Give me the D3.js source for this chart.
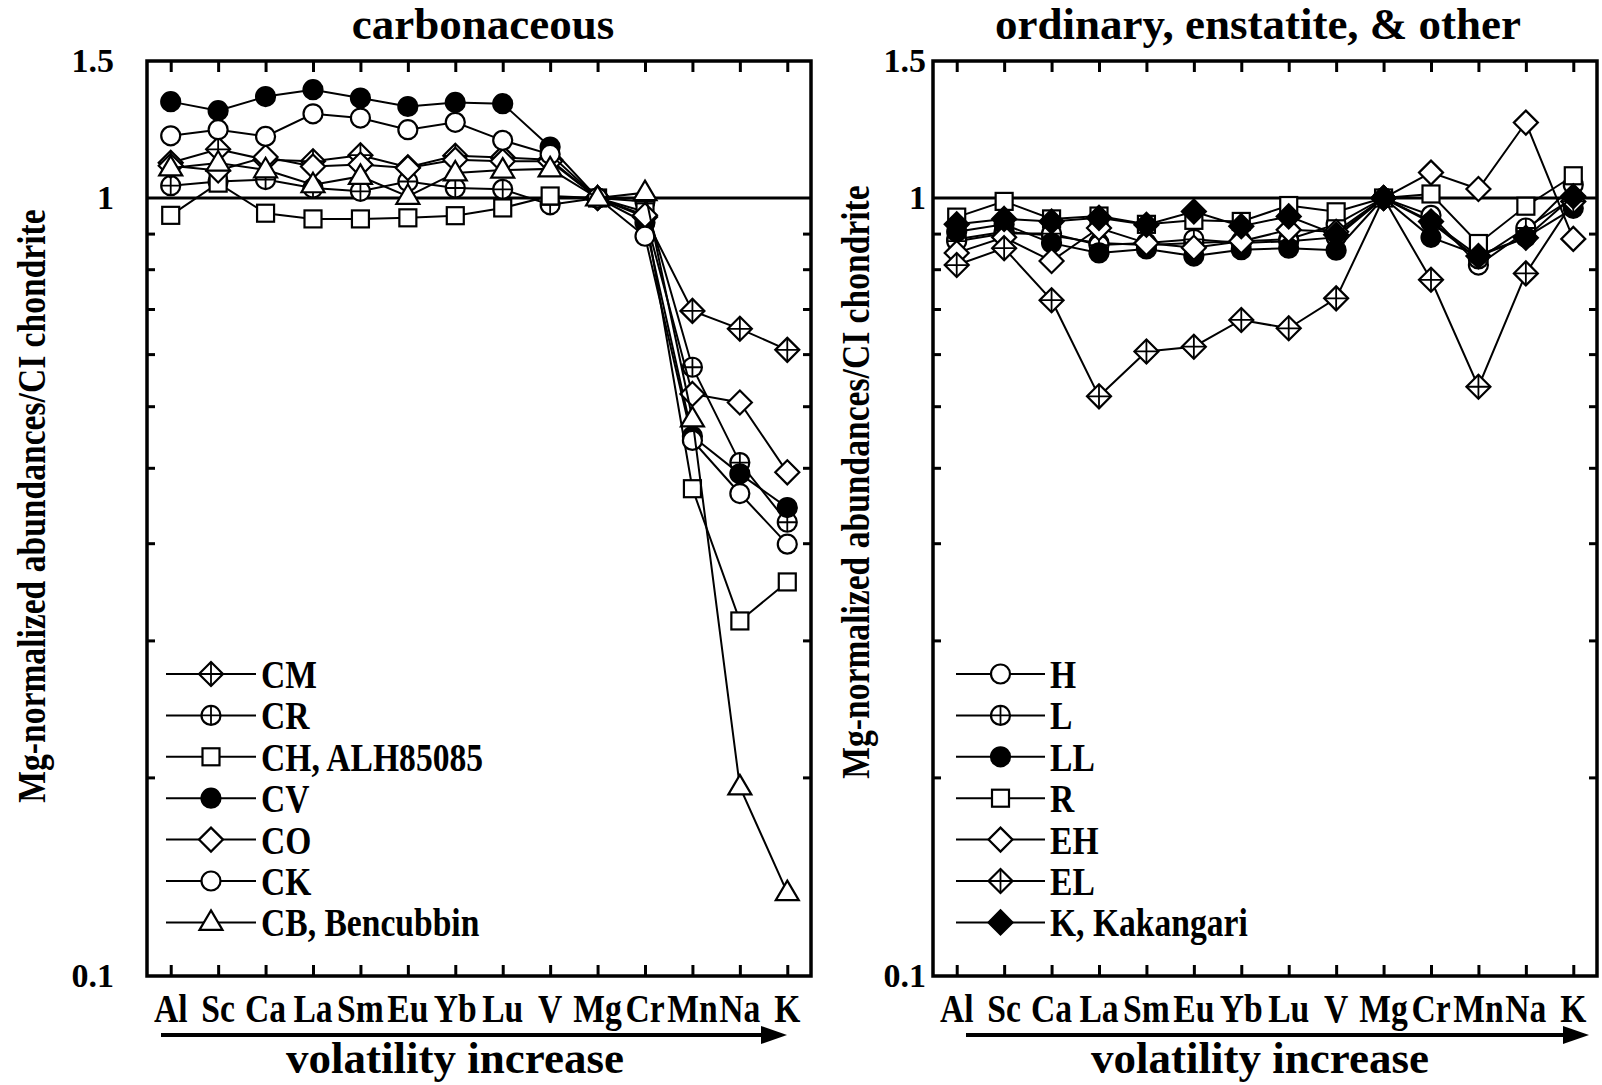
<!DOCTYPE html>
<html>
<head>
<meta charset="utf-8">
<script src="https://cdn.jsdelivr.net/npm/d3@7"></script>
<style>
  body { margin: 0; background: #fff; }
  svg { display: block; font-family: "Liberation Serif", "Times New Roman", serif; font-weight: bold; }
</style>
</head>
<body>
<svg id="chart" width="1602" height="1085"></svg>
<script>
// elements, ordered by volatility
const elements = ["Al", "Sc", "Ca", "La", "Sm", "Eu", "Yb", "Lu", "V", "Mg", "Cr", "Mn", "Na", "K"];

// carbonaceous chondrites (Mg- and CI-normalized)
const CM = [1.11, 1.155, 1.12, 1.115, 1.135, 1.095, 1.133, 1.127, 1.12, 1, 0.945, 0.716, 0.679, 0.638];
const CR = [1.037, 1.05, 1.056, 1.03, 1.02, 1.05, 1.03, 1.026, 0.98, 1, 0.99, 0.606, 0.457, 0.383];
const CH = [0.95, 1.045, 0.956, 0.94, 0.94, 0.943, 0.949, 0.971, 1.006, 1, 0.96, 0.423, 0.286, 0.321];
const CV = [1.33, 1.295, 1.35, 1.378, 1.344, 1.311, 1.327, 1.322, 1.163, 1, 0.93, 0.494, 0.442, 0.4];
const CO = [1.1, 1.085, 1.129, 1.098, 1.104, 1.093, 1.12, 1.115, 1.115, 1, 0.95, 0.56, 0.546, 0.444];
const CK = [1.202, 1.224, 1.2, 1.283, 1.267, 1.224, 1.251, 1.186, 1.138, 1, 0.893, 0.488, 0.417, 0.359];
const CB = [1.093, 1.109, 1.087, 1.04, 1.066, 1.005, 1.077, 1.086, 1.09, 1, 1.016, 0.52, 0.175, 0.128];
const carbNames = ["CM", "CR", "CH, ALH85085", "CV", "CO", "CK", "CB, Bencubbin"];

// ordinary, enstatite & other chondrites
const H = [0.885, 0.905, 0.895, 0.875, 0.87, 0.875, 0.88, 0.885, 0.925, 1, 0.95, 0.82, 0.905, 1.04];
const L = [0.88, 0.9, 0.9, 0.87, 0.875, 0.885, 0.875, 0.88, 0.89, 1, 0.93, 0.835, 0.915, 1.0];
const LL = [0.905, 0.925, 0.875, 0.85, 0.86, 0.842, 0.858, 0.862, 0.857, 1, 0.89, 0.845, 0.89, 0.97];
const R = [0.945, 0.99, 0.94, 0.948, 0.925, 0.936, 0.933, 0.978, 0.96, 1, 1.012, 0.874, 0.976, 1.068];
const EH = [0.85, 0.89, 0.83, 0.915, 0.875, 0.863, 0.88, 0.91, 0.905, 1, 1.078, 1.027, 1.25, 0.886];
const EL = [0.82, 0.862, 0.739, 0.556, 0.635, 0.644, 0.697, 0.68, 0.743, 1, 0.785, 0.572, 0.8, 0.99];
const Kakangari = [0.925, 0.94, 0.933, 0.943, 0.924, 0.961, 0.92, 0.947, 0.897, 1, 0.933, 0.842, 0.889, 1.005];
const otherNames = ["H", "L", "LL", "R", "EH", "EL", "K, Kakangari"];

// y axis
const yTickValues = [0.1, 1, 1.5];
const yTickLabels = ["0.1", "1", "1.5"];
const minorTicks = [0.18, 0.27, 0.36, 0.45, 0.54, 0.63, 0.72, 0.81, 0.9];

const svg = d3.select("#chart");
const plotTop = 61, plotBottom = 976;
const y = d3.scaleLog().domain([0.1, 1.5]).range([plotBottom, plotTop]);

function marker(g, type, cx, cy) {
  const m = g.append("g").attr("transform", `translate(${cx},${cy})`)
    .attr("stroke", "#000").attr("stroke-width", 2.2);
  const fill = type.endsWith("Filled") ? "#000" : "#fff";
  let r = 9.5;
  if (type.startsWith("circle")) {
    m.append("circle").attr("r", 9.5).attr("fill", fill);
  } else if (type.startsWith("square")) {
    m.append("rect").attr("x", -8.5).attr("y", -8.5).attr("width", 17).attr("height", 17).attr("fill", fill);
  } else if (type.startsWith("diamond")) {
    r = 12;
    m.append("path").attr("d", "M0,-12L12,0L0,12L-12,0Z").attr("fill", fill);
  } else if (type.startsWith("triangle")) {
    m.append("path").attr("d", "M0,-12L11.5,7.5L-11.5,7.5Z").attr("fill", fill);
  }
  if (type.endsWith("Cross")) {
    m.append("path").attr("d", `M${-r},0H${r}M0,${-r}V${r}`).attr("fill", "none").attr("stroke-width", 1.8);
  }
}

function drawPanel(cfg) {
  const x = d3.scalePoint().domain(elements).range([cfg.x0, cfg.x1]).padding(0.5);
  const g = svg.append("g");

  // title
  g.append("text")
    .attr("x", cfg.titleX).attr("y", 39)
    .attr("text-anchor", "middle")
    .attr("font-size", 45)
    .text(cfg.title);

  // line at 1
  g.append("line")
    .attr("x1", cfg.x0).attr("x2", cfg.x1)
    .attr("y1", y(1)).attr("y2", y(1))
    .attr("stroke", "#000").attr("stroke-width", 3);

  // ticks on all four sides, pointing inward
  const noDomain = a => a.call(s => s.select(".domain").remove())
    .call(s => s.selectAll(".tick line").attr("stroke-width", 3));
  g.append("g").attr("transform", `translate(0,${plotTop})`)
    .call(d3.axisBottom(x).tickSize(11).tickFormat("")).call(noDomain);
  g.append("g").attr("transform", `translate(0,${plotBottom})`)
    .call(d3.axisTop(x).tickSize(11).tickFormat("")).call(noDomain);
  g.append("g").attr("transform", `translate(${cfg.x0},0)`)
    .call(d3.axisRight(y).tickValues(minorTicks).tickSize(8).tickFormat("")).call(noDomain);
  g.append("g").attr("transform", `translate(${cfg.x1},0)`)
    .call(d3.axisLeft(y).tickValues(minorTicks).tickSize(8).tickFormat("")).call(noDomain);

  // y labels
  const yAxis = g.append("g").attr("transform", `translate(${cfg.x0},0)`)
    .call(d3.axisLeft(y).tickValues(yTickValues).tickSize(0)
      .tickPadding(cfg.yPad).tickFormat((d, i) => yTickLabels[i]));
  yAxis.select(".domain").remove();
  yAxis.selectAll("text")
    .attr("font-size", 34).attr("font-family", "Liberation Serif, serif").attr("font-weight", "bold");

  // frame
  g.append("rect")
    .attr("x", cfg.x0).attr("y", plotTop)
    .attr("width", cfg.x1 - cfg.x0).attr("height", plotBottom - plotTop)
    .attr("fill", "none").attr("stroke", "#000").attr("stroke-width", 3.5);

  // category labels (condensed bold)
  elements.forEach(el => {
    g.append("text")
      .attr("transform", `translate(${x(el)},1022) scale(0.82,1)`)
      .attr("text-anchor", "middle")
      .attr("font-size", 41)
      .text(el);
  });

  // arrow
  g.append("line")
    .attr("x1", cfg.arrow[0]).attr("x2", cfg.arrow[1] - 20)
    .attr("y1", 1035).attr("y2", 1035)
    .attr("stroke", "#000").attr("stroke-width", 4);
  g.append("path")
    .attr("d", `M${cfg.arrow[1]},1035L${cfg.arrow[1] - 26},1026L${cfg.arrow[1] - 26},1044Z`)
    .attr("fill", "#000");
  g.append("text")
    .attr("x", cfg.volX).attr("y", 1073)
    .attr("text-anchor", "middle")
    .attr("font-size", 45)
    .text("volatility increase");

  // y title
  g.append("text")
    .attr("transform", `translate(${cfg.yTitleX},${cfg.yTitleY}) rotate(-90) scale(0.84,1)`)
    .attr("text-anchor", "middle")
    .attr("font-size", 40)
    .text("Mg-normalized abundances/CI chondrite");

  // series
  const line = d3.line().x((d, i) => x(elements[i])).y(d => y(d));
  cfg.series.forEach((vals, k) => {
    g.append("path")
      .attr("d", line(vals))
      .attr("fill", "none").attr("stroke", "#000").attr("stroke-width", 2);
    vals.forEach((v, i) => marker(g, cfg.markers[k], x(elements[i]), y(v)));
  });

  // legend
  cfg.names.forEach((name, k) => {
    const ly = 674 + k * 41.4;
    g.append("line")
      .attr("x1", cfg.leg[0]).attr("x2", cfg.leg[1])
      .attr("y1", ly).attr("y2", ly)
      .attr("stroke", "#000").attr("stroke-width", 2);
    marker(g, cfg.markers[k], (cfg.leg[0] + cfg.leg[1]) / 2, ly);
    g.append("text")
      .attr("transform", `translate(${cfg.leg[1] + 5},${ly + 14}) scale(0.84,1)`)
      .attr("font-size", 40)
      .text(name);
  });
}

drawPanel({
  x0: 147, x1: 811, title: "carbonaceous", titleX: 483, yPad: 33,
  arrow: [161, 787], volX: 455, yTitleX: 45, yTitleY: 506,
  leg: [166, 256],
  series: [CM, CR, CH, CV, CO, CK, CB],
  names: carbNames,
  markers: ["diamondCross", "circleCross", "square", "circleFilled", "diamond", "circle", "triangle"]
});

drawPanel({
  x0: 933, x1: 1597, title: "ordinary, enstatite, & other", titleX: 1258, yPad: 7,
  arrow: [966, 1589], volX: 1260, yTitleX: 869, yTitleY: 482,
  leg: [956, 1045],
  series: [H, L, LL, R, EH, EL, Kakangari],
  names: otherNames,
  markers: ["circle", "circleCross", "circleFilled", "square", "diamond", "diamondCross", "diamondFilled"]
});
</script>
</body>
</html>
